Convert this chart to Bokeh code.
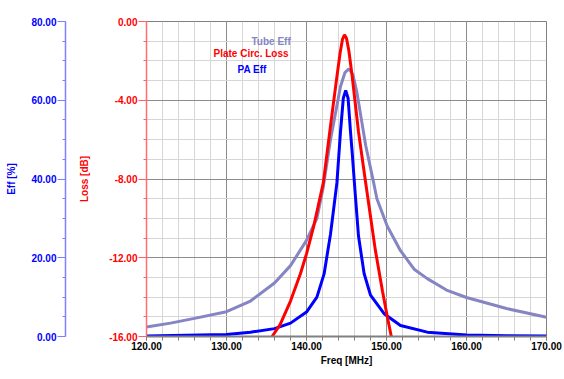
from bokeh.plotting import figure
from bokeh.models import (Range1d, LinearAxis, SingleIntervalTicker, FixedTicker,
                          NumeralTickFormatter, Label)
from bokeh.embed import file_html
from bokeh.resources import INLINE

# ---- data ----
freq_tube = [120, 123, 126, 130, 133, 136, 138, 140, 141.3, 142.1, 143.0, 144.25, 144.8,
             145.3, 145.8, 146.3, 147.4, 148.4, 148.8, 150.1, 151.75, 153.5, 155.1, 157.5,
             160, 165, 170]
eff_tube = [2.4, 3.4, 4.6, 6.3, 9.0, 13.6, 18.0, 24.4, 30.0, 38.0, 50.0, 63.5, 67.0,
            68.0, 66.5, 62.0, 48.5, 39.0, 35.0, 28.0, 21.8, 17.0, 14.7, 11.8,
            9.9, 7.1, 4.9]

freq_pa = [120, 125, 130, 133, 136, 138, 140, 141.3, 142.2, 143.0, 143.4, 143.8, 144.25,
           144.6, 144.9, 145.2, 145.5, 145.7, 146.1, 146.5, 147.2, 148.0, 149.7, 151.75,
           155.1, 160, 165, 170]
eff_pa = [0.1, 0.3, 0.5, 1.1, 2.0, 3.4, 6.2, 10.0, 15.9, 26.0, 32.5, 39.0, 52.0,
          60.5, 62.5, 60.5, 52.0, 47.0, 36.0, 25.5, 16.0, 10.5, 5.8, 2.8,
          1.1, 0.4, 0.2, 0.1]

freq_loss = [135.7, 136.7, 138.0, 139.25, 140.0, 140.9, 141.5, 142.1, 143.0, 143.8, 144.2,
             144.5, 144.75, 145.0, 145.3, 145.7, 146.5, 147.4, 148.6, 149.5, 150.1, 150.6]
loss_db = [-16.0, -15.4, -14.2, -12.8, -11.8, -10.4, -9.3, -8.2, -5.3, -2.8, -1.6,
           -0.9, -0.68, -0.85, -1.5, -2.75, -5.6, -8.2, -11.6, -13.7, -15.0, -16.0]

series_names = ["Tube Eff", "Plate Circ. Loss", "PA Eff"]
x_title = "Freq [MHz]"
loss_title = "Loss [dB]"
eff_title = "Eff [%]"

# ---- styles ----
FONT = "Liberation Sans"
C_TUBE = "#8585c4"
C_LOSS = "#ff0000"
C_PA = "#0000ff"

p = figure(width=564, height=375, output_backend="svg", toolbar_location=None,
           x_range=Range1d(120, 170), y_range=Range1d(-16, 0),
           min_border_left=146, min_border_right=18, min_border_top=21,
           min_border_bottom=39)
p.extra_y_ranges = {"eff": Range1d(0, 80)}
p.background_fill_color = "white"
p.border_fill_color = "white"
p.outline_line_color = "#808080"
p.outline_line_width = 1

# x axis
xa = p.xaxis[0]
xa.ticker = SingleIntervalTicker(interval=10, num_minor_ticks=5)
xa.formatter = NumeralTickFormatter(format="0.00")
xa.axis_label = x_title
xa.axis_line_color = "#808080"
xa.axis_line_width = 2
xa.major_tick_line_color = "#808080"
xa.minor_tick_line_color = "#808080"
xa.major_tick_out = 4
xa.major_tick_in = 0
xa.minor_tick_out = 4
xa.minor_tick_in = 0
xa.major_label_standoff = 1
xa.axis_label_standoff = 2
xa.major_label_text_font = FONT
xa.major_label_text_font_size = "10px"
xa.major_label_text_font_style = "bold"
xa.major_label_text_color = "black"
xa.axis_label_text_font = FONT
xa.axis_label_text_font_size = "10px"
xa.axis_label_text_font_style = "bold"
xa.axis_label_text_color = "black"

# red loss axis (nearest to frame)
ya = p.yaxis[0]
ya.ticker = SingleIntervalTicker(interval=4, num_minor_ticks=4)
ya.formatter = NumeralTickFormatter(format="0.00")
ya.axis_label = loss_title
ya.axis_line_color = "#ff7070"
ya.axis_line_width = 1.5
ya.major_tick_line_color = "#ff6060"
ya.minor_tick_line_color = "#ff6060"
ya.major_tick_out = 8
ya.major_tick_in = 0
ya.minor_tick_out = 3
ya.minor_tick_in = 0
ya.major_label_standoff = 1
ya.axis_label_standoff = 16
ya.major_label_text_color = C_LOSS
ya.axis_label_text_color = C_LOSS

# spacer panel between red label and blue axis: one white tick, labels switched off
spacer = LinearAxis(ticker=FixedTicker(ticks=[-15.7]), axis_label=None,
                    axis_line_color=None, major_tick_line_color="white",
                    minor_tick_line_color=None, major_tick_out=11, major_tick_in=0,
                    minor_tick_out=0, minor_tick_in=0, major_label_standoff=0,
                    major_label_text_color=None)
p.add_layout(spacer, "left")

# blue efficiency axis
ea = LinearAxis(y_range_name="eff")
ea.ticker = SingleIntervalTicker(interval=20, num_minor_ticks=4)
ea.formatter = NumeralTickFormatter(format="0.00")
ea.axis_label = eff_title
ea.axis_line_color = "#8080ff"
ea.axis_line_width = 1.5
ea.major_tick_line_color = "#8080ff"
ea.minor_tick_line_color = "#8080ff"
ea.major_tick_out = 8
ea.major_tick_in = 0
ea.minor_tick_out = 3
ea.minor_tick_in = 0
ea.major_label_standoff = 1
ea.axis_label_standoff = 11
ea.major_label_text_color = C_PA
ea.axis_label_text_color = C_PA
p.add_layout(ea, "left")

for a in [ya, ea]:
    a.major_label_text_font = FONT
    a.major_label_text_font_size = "10px"
    a.major_label_text_font_style = "bold"
    a.axis_label_text_font = FONT
    a.axis_label_text_font_size = "10px"
    a.axis_label_text_font_style = "bold"

# grids
for g in [p.xgrid[0], p.ygrid[0]]:
    g.grid_line_color = "#8c8c8c"
    g.grid_line_width = 1
    g.minor_grid_line_color = "#d6d6d6"
    g.minor_grid_line_width = 1

# curves
p.line(freq_tube, eff_tube, y_range_name="eff", line_color=C_TUBE, line_width=3)
p.line(freq_pa, eff_pa, y_range_name="eff", line_color=C_PA, line_width=3)
p.line(freq_loss, loss_db, line_color=C_LOSS, line_width=3)

# series labels
for name, xx, yy, col in [(series_names[0], 133.125, -1.02, C_TUBE),
                          (series_names[1], 128.375, -1.6, C_LOSS),
                          (series_names[2], 131.375, -2.44, C_PA)]:
    p.add_layout(Label(x=xx, y=yy, text=name, text_color=col, text_font=FONT,
                       text_font_size="10px", text_font_style="bold",
                       text_baseline="alphabetic", text_align="left"))

open("out.html", "w").write(file_html(p, INLINE))
